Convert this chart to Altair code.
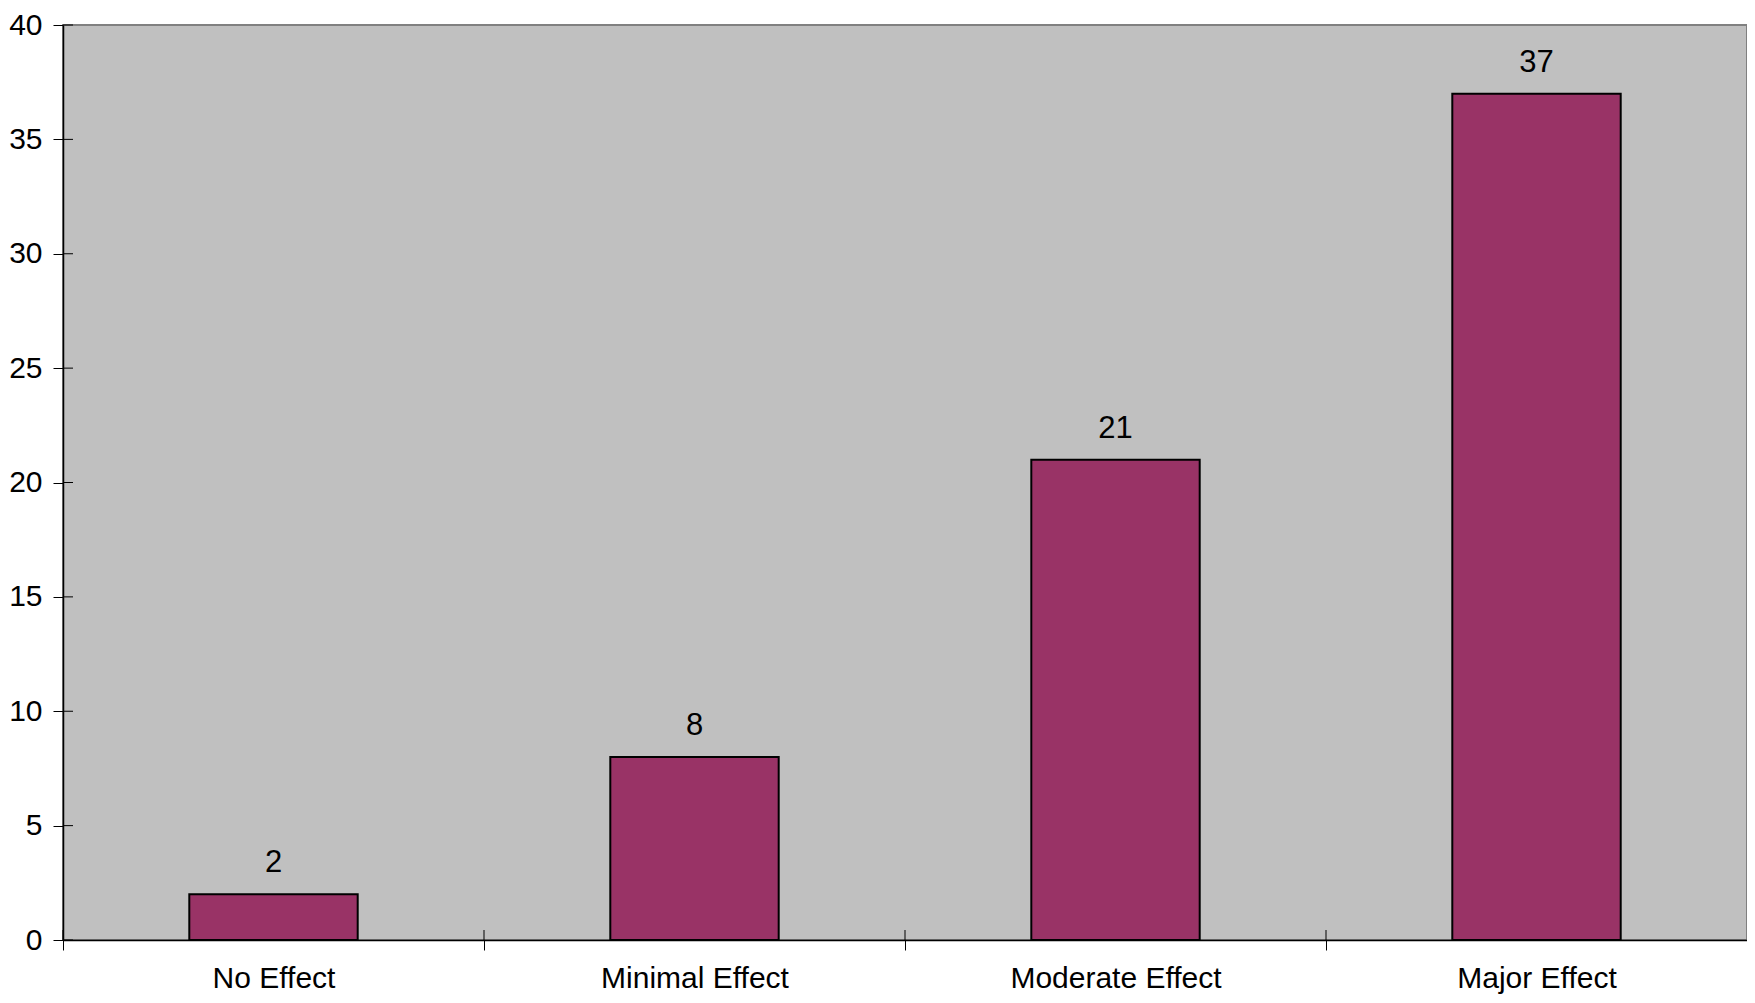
import altair as alt
import pandas as pd

categories = ["No Effect", "Minimal Effect", "Moderate Effect", "Major Effect"]
values = [2, 8, 21, 37]
y_ticks = [0, 5, 10, 15, 20, 25, 30, 35, 40]

df = pd.DataFrame({"category": categories, "value": values})
df_ticks = pd.DataFrame({"tick": y_ticks})

W, H = 1684, 915
FONT = "Liberation Sans"

xscale = alt.Scale(domain=categories, paddingInner=0, paddingOuter=0)
yscale = alt.Scale(domain=[0, 40], nice=False)

base = alt.Chart(df)

bars = base.mark_bar(color="#993366", stroke="#000000", strokeWidth=2,
                     width=alt.RelativeBandSize(0.4)).encode(
    x=alt.X("category:N", scale=xscale, sort=categories,
            axis=alt.Axis(title=None, labelAngle=0, labelFont=FONT,
                          labelFontSize=30, labelColor="#000000", labelPadding=13,
                          labelLimit=0, tickBand="extent", tickSize=10,
                          tickColor="#000000", tickWidth=1,
                          domainColor="#000000", domainWidth=1.5)),
    y=alt.Y("value:Q", scale=yscale,
            axis=alt.Axis(title=None, values=y_ticks,
                          labelFont=FONT, labelFontSize=30,
                          labelColor="#000000", labelPadding=11, tickSize=10,
                          tickColor="#000000", tickWidth=1, domainColor="#000000",
                          domainWidth=1.5, grid=False)),
)

labels = base.mark_text(font=FONT, fontSize=31, color="#000000",
                        baseline="alphabetic", dy=-22).encode(
    x=alt.X("category:N", scale=xscale, sort=categories),
    y=alt.Y("value:Q", scale=yscale),
    text=alt.Text("value:Q"),
)

ticks_up = base.mark_rule(color="#000000", strokeWidth=1).encode(
    x=alt.X("category:N", scale=xscale, sort=categories, bandPosition=0),
    y=alt.value(H - 10),
    y2=alt.value(H),
)

ticks_in = alt.Chart(df_ticks).mark_rule(color="#000000", strokeWidth=1).encode(
    y=alt.Y("tick:Q", scale=yscale),
    x=alt.value(0),
    x2=alt.value(10),
)

chart = alt.layer(bars, labels, ticks_up, ticks_in).properties(
    width=W, height=H,
    autosize=alt.AutoSizeParams(type="none"),
    padding={"left": 55, "top": 17, "right": 0, "bottom": 55},
    background="#ffffff",
).configure_view(
    fill="#C0C0C0", stroke="#808080", strokeWidth=2
)

chart.save("out.html", embed_options={"renderer": "svg", "actions": False})
